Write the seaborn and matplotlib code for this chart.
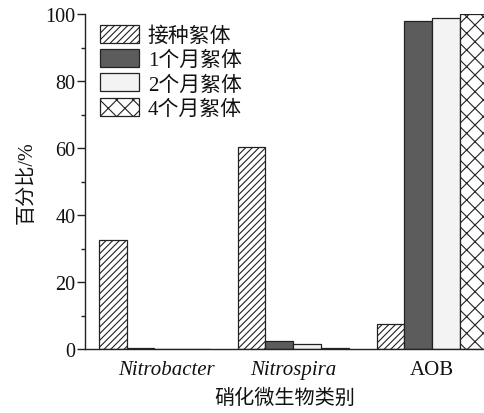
import numpy as np
import pandas as pd
import matplotlib
matplotlib.use("Agg")
import matplotlib.pyplot as plt
import seaborn as sns
from matplotlib.transforms import ScaledTranslation

categories = ["Nitrobacter", "Nitrospira", "AOB"]
groups = ["接种絮体", "1个月絮体", "2个月絮体", "4个月絮体"]
inoculum = [32.6, 60.2, 7.6]
month1 = [0.2, 2.3, 97.8]
month2 = [0.1, 1.5, 98.8]
month4 = [0.1, 0.4, 99.9]

sns.set_theme(style="ticks")
plt.rcParams["font.family"] = ["Liberation Serif", "Noto Sans CJK SC"]
plt.rcParams["hatch.linewidth"] = 0.8
plt.rcParams["hatch.color"] = "#222222"

rows = []
for g, vals in zip(groups, [inoculum, month1, month2, month4]):
    for c, v in zip(categories, vals):
        rows.append({"cat": c, "grp": g, "val": v})
df = pd.DataFrame(rows)

fig = plt.figure(figsize=(4.85, 4.14), dpi=100)
ax = fig.add_axes([85 / 485, 1 - 350 / 414, 400 / 485, 335 / 414])

sns.barplot(data=df, x="cat", y="val", hue="grp", order=categories,
            hue_order=groups, ax=ax, width=0.8, gap=0,
            palette=["white"] * 4, edgecolor="#222222", linewidth=0.9,
            saturation=1, legend=False)

styles = [
    dict(facecolor="white", hatch="/////"),
    dict(facecolor="#5c5c5c", hatch=None),
    dict(facecolor="#f3f3f3", hatch=None),
    dict(facecolor="white", hatch="xx"),
]
for cont, st in zip(ax.containers, styles):
    for p in cont:
        p.set_facecolor(st["facecolor"])
        p.set_hatch(st["hatch"])
        p.set_edgecolor("#222222")
        p.set_linewidth(0.9)

ax.set_xlim(-0.5, 2.381)
ax.set_ylim(0, 100)
ax.set_yticks([0, 20, 40, 60, 80, 100])
ax.set_yticks(np.arange(10, 100, 20), minor=True)
for s in ["top", "right"]:
    ax.spines[s].set_visible(False)
for s in ["left", "bottom"]:
    ax.spines[s].set_color("#222222")
    ax.spines[s].set_linewidth(1.0)

ax.tick_params(axis="y", which="major", direction="out", length=6, width=1.0,
               color="#222222", labelsize=14.5, pad=1, labelcolor="#111111")
ax.tick_params(axis="y", which="minor", direction="out", length=3, width=1.0,
               color="#222222", left=True)
ax.tick_params(axis="x", length=0, pad=8, labelsize=15, labelcolor="#111111")

ax.set_xticks([0, 1, 2])
ax.set_xticklabels(categories)
for lbl in ax.get_xticklabels():
    if lbl.get_text() != "AOB":
        lbl.set_fontstyle("italic")
first = ax.get_xticklabels()[0]
first.set_transform(first.get_transform() + ScaledTranslation(12 / 100, 0, fig.dpi_scale_trans))

ax.set_xlabel("硝化微生物类别", fontsize=14.5, color="#111111", labelpad=7)
ax.set_ylabel("百分比/%", fontsize=14.5, color="#111111", labelpad=6)

handles = [cont[0] for cont in ax.containers]
leg = ax.legend(handles, groups, loc="upper left", bbox_to_anchor=(0.0375, 0.968),
                borderaxespad=0, borderpad=0, frameon=False, fontsize=15,
                handlelength=1.85, handleheight=0.95, handletextpad=0.45,
                labelspacing=0.15)
for t in leg.get_texts():
    t.set_color("#111111")

fig.savefig("out.png", dpi=100)
